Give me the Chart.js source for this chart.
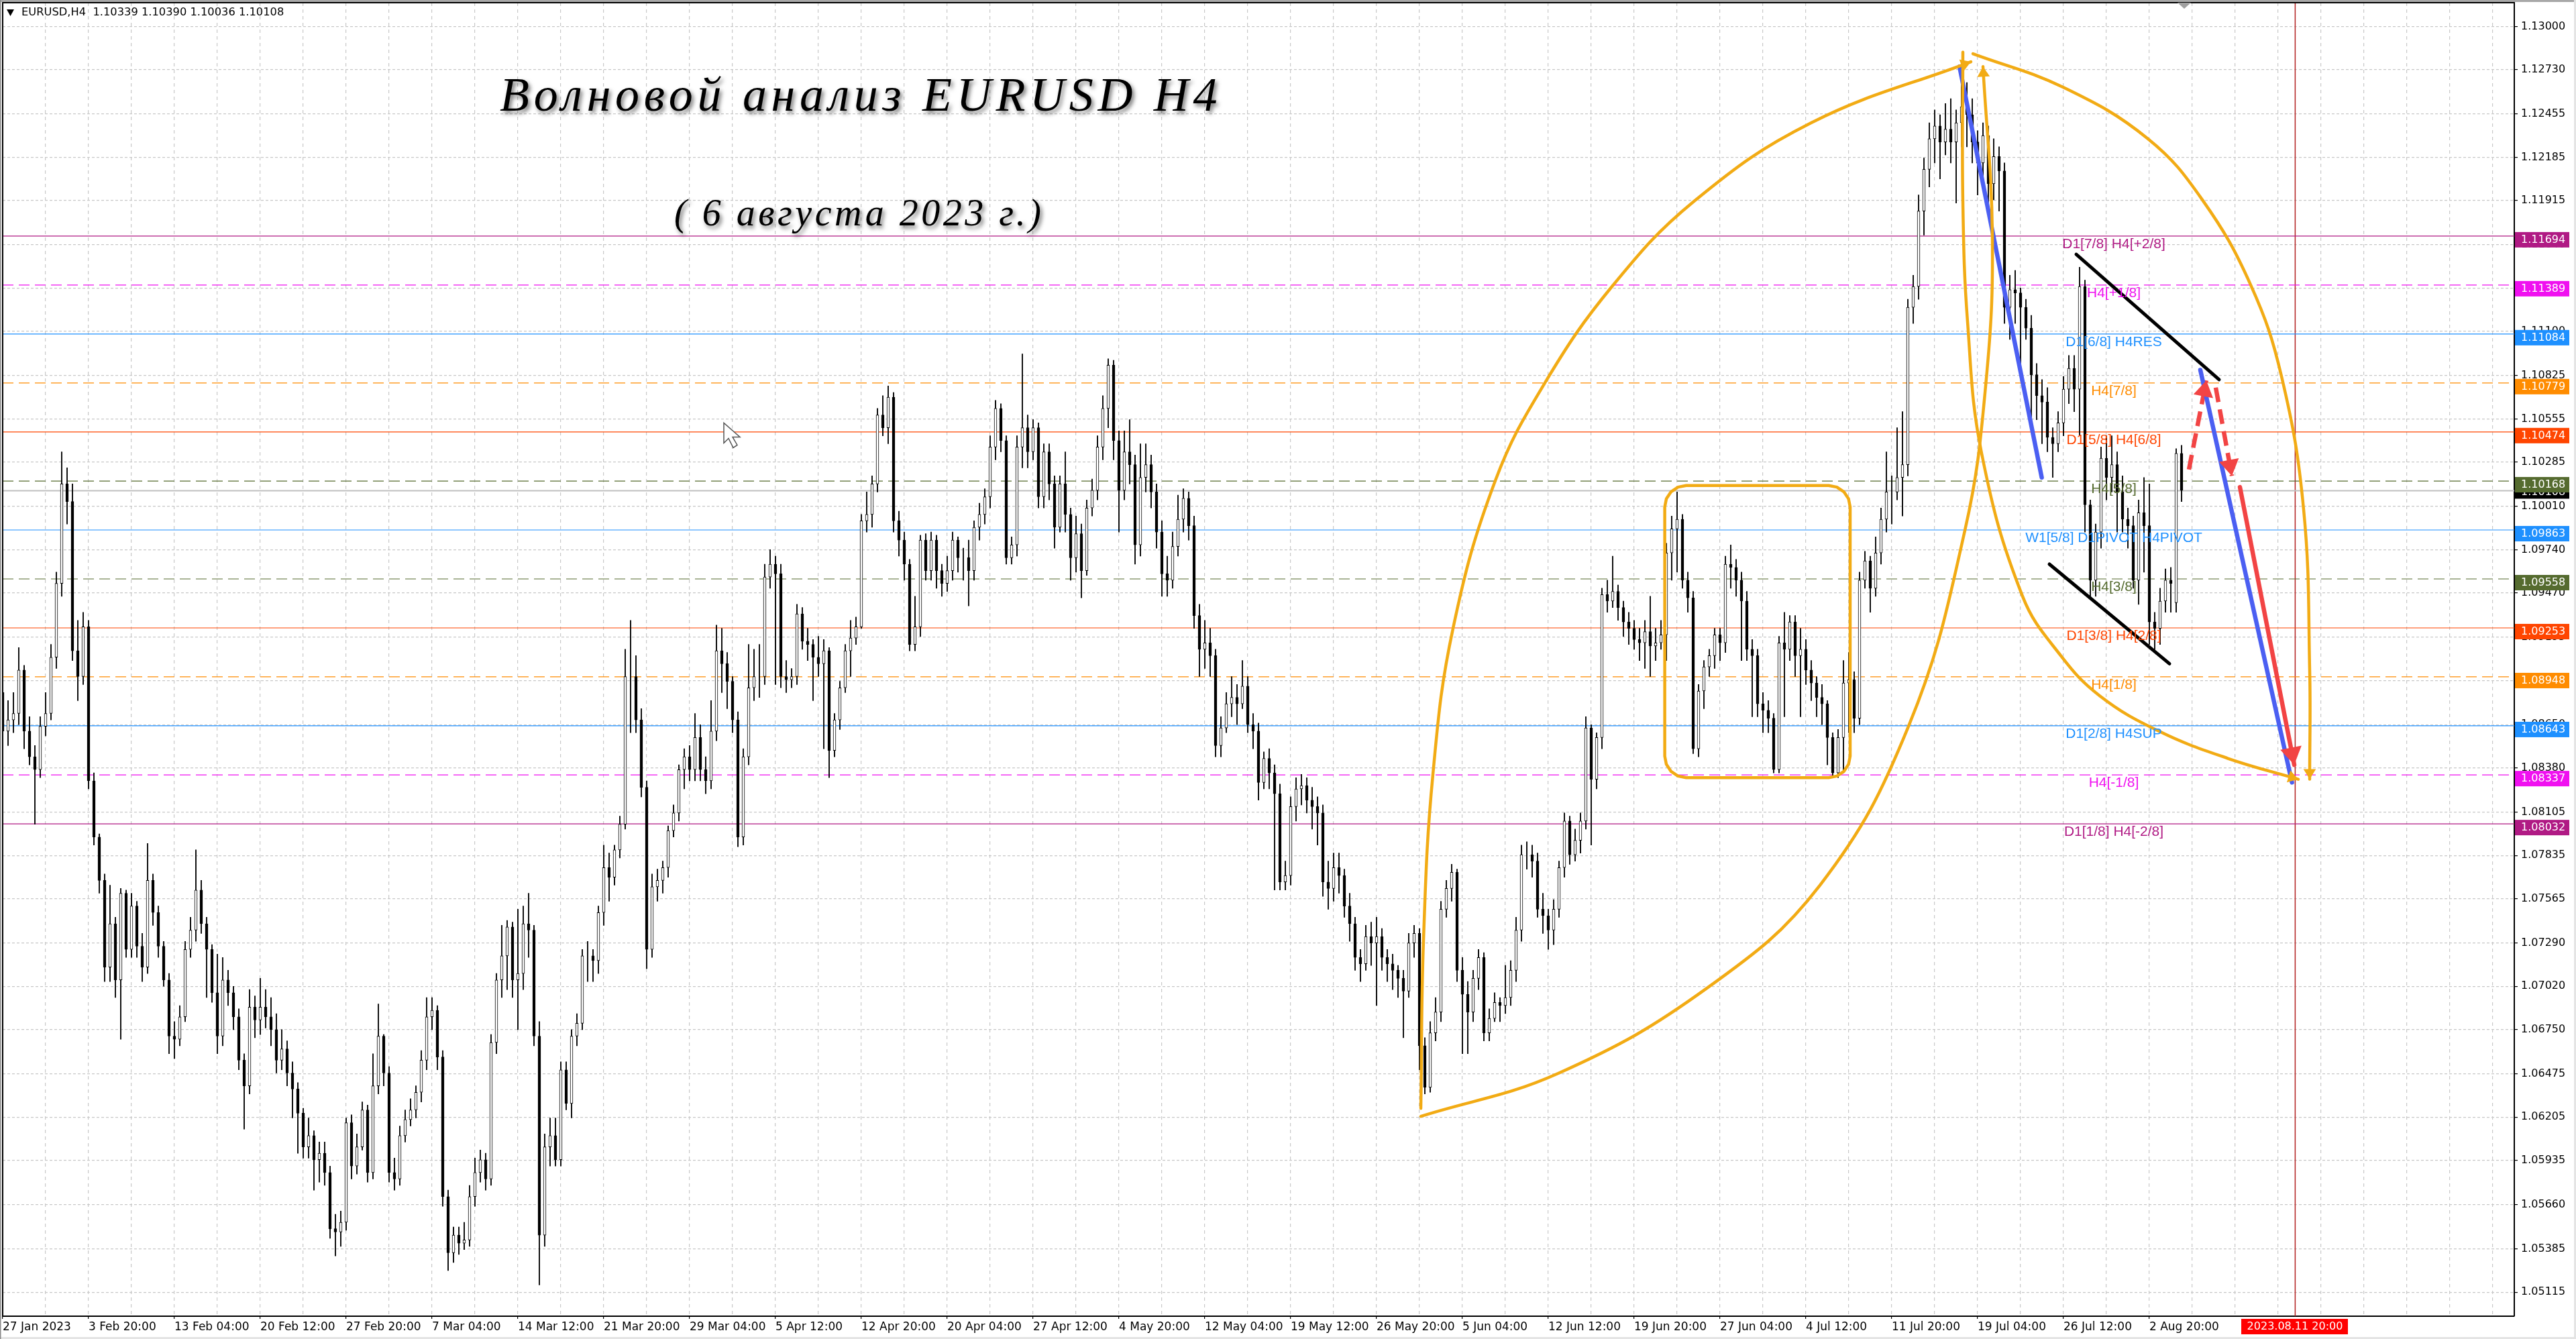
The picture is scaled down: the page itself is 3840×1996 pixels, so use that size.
<!DOCTYPE html>
<html>
<head>
<meta charset="utf-8">
<title>EURUSD H4</title>
<style>
  html, body { margin: 0; padding: 0; background: #fff; }
  canvas { display: block; }
</style>
<script src="https://cdn.jsdelivr.net/npm/chart.js@4"></script>
</head>
<body>
<canvas id="chart" width="3840" height="1996"></canvas>
<script>
// prices are kept in 0.0001 units, one candle for every two H4 bars
const opens = [
10885,10861,10868,10872,10899,10861,10845,10837,10864,10872,
10907,10953,11015,11004,10911,10895,10926,10830,10795,10768,
10714,10741,10706,10760,10725,10752,10727,10714,10768,10748,
10727,10706,10671,10669,10683,10725,10737,10762,10741,10725,
10698,10671,10706,10698,10683,10656,10640,10689,10681,10689,
10683,10675,10656,10663,10648,10638,10623,10602,10609,10594,
10598,10586,10551,10549,10555,10617,10590,10602,10625,10586,
10640,10671,10648,10586,10582,10609,10619,10625,10636,10656,
10683,10687,10658,10571,10536,10547,10542,10544,10571,10586,
10594,10582,10667,10706,10721,10739,10706,10710,10741,10737,
10671,10547,10602,10609,10594,10650,10629,10671,10679,10721,
10721,10718,10748,10776,10770,10787,10803,10895,10895,10868,
10826,10725,10764,10768,10776,10799,10810,10837,10845,10837,
10857,10837,10830,10861,10911,10903,10892,10868,10795,10845,
10888,10895,10895,10957,10965,10959,10895,10893,10895,10934,
10917,10915,10907,10903,10911,10849,10868,10888,10911,10919,
10926,10992,10996,11015,11058,11050,11069,10992,10980,10965,
10915,10926,10980,10961,10980,10961,10953,10961,10980,10969,
10969,10961,10988,10996,11007,11038,11062,11042,10969,10977,
11038,11050,11035,11050,11007,11035,11015,10988,11015,10996,
10969,10984,10961,11000,11011,11038,11062,11089,11042,11011,
11035,11027,10977,
11019,11027,11010,10985,10959,10955,10976,10993,11006,10989,
10933,10912,10916,10908,10852,10863,10878,10882,10878,10889,
10865,10861,10829,10844,10835,10822,10767,10771,10814,10825,
10827,10818,10814,10810,10767,10763,10776,10771,10752,10741,
10720,10716,10733,10729,10733,10720,10716,10712,10707,10699,
10729,10735,10665,10639,10673,10686,10750,10763,10773,10712,
10697,10686,10707,10720,10673,10682,10692,10690,10695,10712,
10737,10784,10784,10780,10750,10746,10737,10750,10776,10805,
10784,10793,10805,10863,10831,10857,10946,10942,10948,10938,
10929,10925,10918,10916,10923,10914,10916,10921,10972,10987,
10993,10955,10944,10850,10886,10901,10908,10921,10916,10965,
10963,10955,10942,10912,10908,10878,10874,10869,10837,10916,
10912,10929,10908,10912,10899,10891,10882,10878,10857,10835,
10857,10891,10893,10869,10955,10967,10950,10972,10993,11010,
11010,11019,11027,11125,11138,11185,11211,11230,11238,11228,
11236,11228,11240,11250,11245,11228,11215,11232,11202,11219,
11210,11125,11136,11134,11125,11112,11083,11070,11066,11044,
11040,11053,11074,11087,11074,11138,11002,10955,10985,11031,
11019,11027,11010,10993,10989,10955,10997,10989,10929,10925,
10942,10955,10941,11034
];
const highs = [
10895,10880,10885,10913,10902,10870,10852,10870,10885,10915,
10960,11035,11025,11015,10930,10935,10930,10835,10797,10772,
10765,10745,10763,10762,10760,10755,10735,10791,10772,10752,
10730,10710,10680,10690,10730,10745,10787,10768,10745,10728,
10722,10720,10712,10702,10688,10660,10700,10696,10707,10700,
10695,10685,10675,10668,10655,10642,10626,10620,10612,10605,
10605,10590,10560,10562,10620,10622,10610,10630,10628,10660,
10691,10672,10652,10595,10615,10625,10632,10640,10662,10695,
10695,10690,10662,10575,10552,10552,10555,10578,10595,10600,
10598,10672,10710,10740,10743,10742,10750,10752,10760,10740,
10680,10610,10620,10620,10655,10655,10675,10685,10725,10730,
10725,10752,10790,10785,10790,10808,10912,10930,10908,10875,
10830,10772,10775,10780,10802,10815,10840,10850,10852,10872,
10865,10845,10880,10927,10925,10910,10895,10873,10850,10915,
10912,10915,10965,10974,10970,10965,10905,10900,10940,10938,
10925,10918,10920,10918,10913,10872,10892,10915,10930,10932,
10996,11010,11020,11062,11070,11076,11072,10998,10985,10968,
10945,10983,10984,10985,10983,10965,10970,10985,10982,10975,
10980,10992,11003,11012,11045,11067,11065,11045,10982,11045,
11096,11058,11055,11053,11040,11040,11020,11020,11035,11000,
10995,10990,11005,11018,11045,11070,11093,11092,11048,11048,
11055,11033,11040,
11040,11033,11015,10992,10970,10985,11008,11012,11010,10995,
10940,10930,10925,10912,10870,10885,10895,10890,10905,10895,
10872,10866,10848,10850,10840,10828,10780,10820,10832,10834,
10832,10826,10820,10815,10780,10785,10785,10775,10760,10745,
10725,10740,10742,10745,10738,10725,10722,10715,10712,10735,
10740,10738,10670,10680,10695,10755,10768,10778,10775,10720,
10705,10712,10725,10723,10688,10698,10695,10715,10718,10745,
10790,10792,10790,10785,10760,10750,10756,10780,10810,10808,
10800,10810,10870,10865,10860,10950,10955,10970,10952,10942,
10935,10930,10925,10930,10945,10925,10930,10978,10995,11010,
10996,10960,10948,10890,10905,10912,10925,10925,10970,10977,
10968,10960,10948,10918,10912,10885,10880,10872,10920,10935,
10933,10933,10925,10918,10905,10895,10890,10880,10860,10862,
10905,10910,10898,10960,10973,10970,10982,11000,11035,11020,
11050,11060,11130,11145,11195,11218,11240,11248,11245,11252,
11255,11248,11276,11265,11255,11235,11240,11238,11230,11225,
11215,11145,11148,11137,11130,11120,11090,11080,11075,11050,
11060,11082,11095,11095,11150,11142,11005,10990,11038,11045,
11045,11035,11020,11000,10995,11005,11019,11015,10935,10950,
10962,10963,11037,11039
];
const lows = [
10830,10852,10860,10865,10850,10840,10803,10832,10858,10868,
10900,10945,10990,10905,10880,10890,10825,10790,10760,10705,
10705,10695,10669,10720,10720,10720,10705,10710,10740,10720,
10702,10660,10657,10665,10680,10720,10730,10735,10695,10692,
10660,10665,10690,10675,10650,10613,10635,10670,10672,10676,
10665,10648,10650,10640,10620,10598,10595,10595,10575,10580,
10578,10545,10534,10540,10550,10582,10585,10600,10580,10582,
10635,10640,10580,10575,10578,10605,10615,10620,10630,10650,
10675,10650,10565,10525,10530,10535,10538,10540,10565,10580,
10575,10578,10660,10695,10700,10695,10675,10700,10720,10665,
10516,10540,10590,10590,10590,10625,10620,10665,10675,10705,
10705,10710,10740,10755,10765,10782,10800,10860,10860,10820,
10713,10720,10755,10760,10770,10795,10805,10825,10830,10830,
10830,10822,10825,10855,10885,10875,10860,10789,10790,10840,
10880,10882,10890,10950,10890,10888,10885,10888,10890,10912,
10905,10880,10895,10850,10832,10845,10862,10885,10895,10915,
10925,10985,10988,11010,11045,11040,10985,10970,10955,10911,
10911,10920,10955,10955,10950,10945,10948,10955,10960,10955,
10939,10955,10980,10990,11000,11030,11035,10965,10965,10970,
11025,11025,11030,11000,11000,11005,10975,10985,10985,10955,
10960,10944,10958,10995,11005,11030,11050,11030,10985,11005,
11015,10965,10970,
11010,11000,10975,10945,10945,10950,10970,10985,10980,10925,
10895,10900,10895,10845,10845,10860,10870,10865,10875,10860,
10850,10818,10825,10825,10762,10762,10762,10765,10805,10815,
10810,10800,10790,10758,10750,10755,10760,10745,10730,10712,
10705,10712,10715,10690,10712,10705,10700,10695,10670,10695,
10720,10650,10635,10636,10668,10680,10745,10755,10705,10660,
10660,10680,10700,10668,10668,10680,10680,10685,10690,10705,
10730,10775,10770,10745,10735,10725,10728,10745,10770,10778,
10780,10785,10800,10790,10825,10850,10935,10938,10930,10920,
10915,10912,10905,10900,10895,10905,10912,10905,10955,10960,
10950,10935,10847,10845,10875,10895,10900,10905,10910,10950,
10945,10905,10905,10870,10870,10860,10860,10835,10835,10870,
10905,10895,10870,10890,10880,10870,10865,10840,10833,10832,
10835,10860,10860,10865,10950,10935,10945,10965,10985,10990,
11005,10995,11020,11115,11130,11170,11200,11215,11205,11220,
11215,11190,11225,11225,11215,11195,11200,11190,11192,11185,
11115,11105,11115,11090,11105,11055,11055,11040,11035,11019,
11035,11045,11065,11060,11045,10985,10945,10945,10975,11005,
11010,10985,10985,10975,10950,10940,10960,10915,10912,10915,
10935,10935,10935,11004
];
const closes = [
10861,10868,10872,10899,10861,10845,10837,10864,10872,10907,
10953,11015,11004,10911,10895,10926,10830,10795,10768,10714,
10741,10706,10760,10725,10752,10727,10714,10768,10748,10727,
10706,10671,10669,10683,10725,10737,10762,10741,10725,10698,
10671,10706,10698,10683,10656,10640,10689,10681,10689,10683,
10675,10656,10663,10648,10638,10623,10602,10609,10594,10598,
10586,10551,10549,10555,10617,10590,10602,10625,10586,10640,
10671,10648,10586,10582,10609,10619,10625,10636,10656,10683,
10687,10658,10571,10536,10547,10542,10544,10571,10586,10594,
10582,10667,10706,10721,10739,10706,10710,10741,10737,10671,
10547,10602,10609,10594,10650,10629,10671,10679,10721,10721,
10718,10748,10776,10770,10787,10803,10895,10895,10868,10826,
10725,10764,10768,10776,10799,10810,10837,10845,10837,10857,
10837,10830,10861,10911,10903,10892,10868,10795,10845,10888,
10895,10895,10957,10965,10959,10895,10893,10895,10934,10917,
10915,10907,10903,10911,10849,10868,10888,10911,10919,10926,
10992,10996,11015,11058,11050,11069,10992,10980,10965,10915,
10926,10980,10961,10980,10961,10953,10961,10980,10969,10969,
10961,10988,10996,11007,11038,11062,11042,10969,10977,11038,
11050,11035,11050,11007,11035,11015,10988,11015,10996,10969,
10984,10961,11000,11011,11038,11062,11089,11042,11011,11035,
11027,10977,11019,
11027,11010,10985,10959,10955,10976,10993,11006,10989,10933,
10912,10916,10908,10852,10863,10878,10882,10878,10889,10865,
10861,10829,10844,10835,10822,10767,10771,10814,10825,10827,
10818,10814,10810,10767,10763,10776,10771,10752,10741,10720,
10716,10733,10729,10733,10720,10716,10712,10707,10699,10729,
10735,10665,10639,10673,10686,10750,10763,10773,10712,10697,
10686,10707,10720,10673,10682,10692,10690,10695,10712,10737,
10784,10784,10780,10750,10746,10737,10750,10776,10805,10784,
10793,10805,10863,10831,10857,10946,10942,10948,10938,10929,
10925,10918,10916,10923,10914,10916,10921,10972,10987,10993,
10955,10944,10850,10886,10901,10908,10921,10916,10965,10963,
10955,10942,10912,10908,10878,10874,10869,10837,10916,10912,
10929,10908,10912,10899,10891,10882,10878,10857,10835,10857,
10891,10893,10869,10955,10967,10950,10972,10993,11010,11010,
11019,11027,11125,11138,11185,11211,11230,11238,11228,11236,
11228,11240,11250,11245,11228,11215,11232,11202,11219,11210,
11125,11136,11134,11125,11112,11083,11070,11066,11044,11040,
11053,11074,11087,11074,11138,11002,10955,10985,11031,11019,
11027,11010,10993,10989,10955,10997,10989,10929,10925,10942,
10955,10953,11034,11011
];

const yTickLabels = ['1.13000','1.12730','1.12455','1.12185','1.11915','1.11640','1.11370','1.11100','1.10825','1.10555',
  '1.10285','1.10010','1.09740','1.09470','1.09195','1.08925','1.08650','1.08380','1.08105','1.07835',
  '1.07565','1.07290','1.07020','1.06750','1.06475','1.06205','1.05935','1.05660','1.05385','1.05115'];
const xTickLabels = ['27 Jan 2023','3 Feb 20:00','13 Feb 04:00','20 Feb 12:00','27 Feb 20:00','7 Mar 04:00','14 Mar 12:00',
  '21 Mar 20:00','29 Mar 04:00','5 Apr 12:00','12 Apr 20:00','20 Apr 04:00','27 Apr 12:00','4 May 20:00','12 May 04:00',
  '19 May 12:00','26 May 20:00','5 Jun 04:00','12 Jun 12:00','19 Jun 20:00','27 Jun 04:00','4 Jul 12:00','11 Jul 20:00',
  '19 Jul 04:00','26 Jul 12:00','2 Aug 20:00'];

// Murrey levels
const levelPrices = [1.11694,1.11389,1.11084,1.10779,1.10474,1.10168,1.09863,1.09558,1.09253,1.08948,1.08643,1.08337,1.08032];
const levelNames = ['D1[7/8] H4[+2/8]','H4[+1/8]','D1[6/8] H4RES','H4[7/8]','D1[5/8] H4[6/8]','H4[5/8]',
  'W1[5/8] D1PIVOT H4PIVOT','H4[3/8]','D1[3/8] H4[2/8]','H4[1/8]','D1[2/8] H4SUP','H4[-1/8]','D1[1/8] H4[-2/8]'];
const lastPrice = 1.10108;
const cursorBar = 854.35;
const cursorTimeLabel = '2023.08.11 20:00';
const headerText = 'EURUSD,H4  1.10339 1.10390 1.10036 1.10108';

// drawn shapes, bars on x (4 px per bar), 0.0001 units on y
const arcUpperBars = [528.5,529.5,533,540.5,556.25,574.75,599.75,630.25,674,733.5];
const arcUpperPrices = [10626,10731,10834,10925,11017,11078,11138,11191,11240,11278];
const arcLowerBars = [528.5,580,635.25,677.25,710.25,731.25,739.1,741.5,738];
const arcLowerPrices = [10621,10648,10701,10765,10864,10986,11078,11169,11275];
const arcRightBars = [734.25,768,799.5,819.75,837.75,849.25,857.5,859.75,859.75];
const arcRightPrices = [11283,11262,11230,11192,11139,11082,10999,10899,10831];
const arcInnerBars = [730.5,730.5,732.25,737.5,752.75,767,781.5,803.5,829.25,855.5];
const arcInnerPrices = [11284,11191,11116,11034,10945,10908,10883,10861,10844,10831];
const boxBars = [619.4,620,621.75,624.35,627.4,680.5,683.55,686.15,687.9,688.5,688.5,687.9,686.15,683.55,680.5,627.4,624.35,621.75,620,619.4,619.4];
const boxPrices = [11000.6,11005.7,11010.1,11013,11014,11014,11013,11010.1,11005.7,11000.6,10845.4,10840.3,10835.9,10833,10832,10832,10833,10835.9,10840.3,10845.4,11000.6];
const blueDownBars = [729.25,759.9];
const blueDownPrices = [11275,11019];
const blueTargetBars = [819,853.15];
const blueTargetPrices = [11086,10829];
const channelUpperBars = [772.75,826];
const channelUpperPrices = [11158,11080];
const channelLowerBars = [762.75,807.5];
const channelLowerPrices = [10965,10903];
const redUpBars = [814.75,821.25];
const redUpPrices = [11024,11079.5];
const redDownBars = [824.75,830.75];
const redDownPrices = [11075,11020];
const redMainBars = [833.75,854];
const redMainPrices = [11013,10840];

// styles
const PURPLE = '#b01a84', MAGENTA = '#f010f0', BLUE = '#1e90ff', ORANGE = '#ff8c00', RED_ORANGE = '#ff4500', OLIVE = '#556b2f';
const levelColors = [PURPLE,MAGENTA,BLUE,ORANGE,RED_ORANGE,OLIVE,BLUE,OLIVE,RED_ORANGE,ORANGE,BLUE,MAGENTA,PURPLE];
const levelDashed = [false,true,false,true,false,true,false,true,false,true,false,true,false];
const ARC = '#f2ab14', STROKE_BLUE = '#4b5ff2', STROKE_RED = '#f24444';
const PLOT = { left: 4, top: 4, right: 3748, bottom: 1962 };
const X_MIN = 0, X_MAX = 936, BARS_PER_CANDLE = 2, BARS_PER_GRID = 16;
const Y_MIN = 1.04965, Y_MAX = 1.13148;

function toPrice(v) { return v / 10000; }

function shape(bars, prices, color, width, extra) {
  return Object.assign({
    type: 'line',
    data: bars.map((b, i) => ({ x: b, y: toPrice(prices[i]) })),
    borderColor: color,
    borderWidth: width,
    pointRadius: 0,
    fill: false,
    order: 1,
    borderCapStyle: 'round',
    borderJoinStyle: 'round'
  }, extra || {});
}

const datasets = [];

// overlays first so they stay on top of the candles
datasets.push(shape(arcUpperBars, arcUpperPrices, ARC, 4.5, { tension: 0.4, arrowSize: 15 }));
datasets.push(shape(arcLowerBars, arcLowerPrices, ARC, 4.5, { tension: 0.4, arrowSize: 15 }));
datasets.push(shape(arcRightBars, arcRightPrices, ARC, 4.5, { tension: 0.4, arrowSize: 15 }));
datasets.push(shape(arcInnerBars, arcInnerPrices, ARC, 4.5, { tension: 0.4, arrowSize: 15 }));
datasets.push(shape(boxBars, boxPrices, ARC, 4.5));
datasets.push(shape(blueDownBars, blueDownPrices, STROKE_BLUE, 6.5));
datasets.push(shape(blueTargetBars, blueTargetPrices, STROKE_BLUE, 6.5));
datasets.push(shape(channelUpperBars, channelUpperPrices, '#000', 5));
datasets.push(shape(channelLowerBars, channelLowerPrices, '#000', 5));
datasets.push(shape(redUpBars, redUpPrices, STROKE_RED, 6.5, { borderDash: [22, 11], borderCapStyle: 'butt', arrowSize: 24 }));
datasets.push(shape(redDownBars, redDownPrices, STROKE_RED, 6.5, { borderDash: [22, 11], borderCapStyle: 'butt', arrowSize: 24 }));
datasets.push(shape(redMainBars, redMainPrices, STROKE_RED, 6.5, { arrowSize: 26 }));

// candles: a thin floating bar for the wick and a wider one for the body
datasets.push({
  type: 'bar',
  data: opens.map((o, i) => ({ x: i * BARS_PER_CANDLE, y: [toPrice(o), toPrice(closes[i])] })),
  barThickness: 4,
  grouped: false,
  backgroundColor: ctx => (closes[ctx.dataIndex] >= opens[ctx.dataIndex] ? '#fff' : '#000'),
  borderColor: '#000',
  borderWidth: 1,
  borderSkipped: false,
  order: 3
});
datasets.push({
  type: 'bar',
  data: lows.map((l, i) => ({ x: i * BARS_PER_CANDLE, y: [toPrice(l), toPrice(highs[i])] })),
  barThickness: 1.2,
  grouped: false,
  backgroundColor: '#000',
  borderWidth: 0,
  order: 4
});

// horizontal levels and the red time line underneath everything
levelPrices.forEach((p, i) => {
  datasets.push({
    type: 'line',
    data: [{ x: X_MIN, y: p }, { x: X_MAX, y: p }],
    borderColor: levelColors[i],
    borderWidth: 1.2,
    borderDash: levelDashed[i] ? [16, 8] : [],
    pointRadius: 0,
    order: 5
  });
});
datasets.push({
  type: 'line',
  data: [{ x: X_MIN, y: lastPrice }, { x: X_MAX, y: lastPrice }],
  borderColor: '#c0c0c0',
  borderWidth: 2,
  pointRadius: 0,
  order: 5
});
datasets.push({
  type: 'line',
  data: [{ x: cursorBar, y: Y_MIN }, { x: cursorBar, y: Y_MAX }],
  borderColor: '#b22222',
  borderWidth: 1.5,
  pointRadius: 0,
  order: 5
});

const arrowHeads = {
  id: 'arrowHeads',
  afterDatasetsDraw(chart) {
    const { ctx, scales } = chart;
    ctx.save();
    chart.data.datasets.forEach(ds => {
      if (!ds.arrowSize) return;
      const n = ds.data.length;
      const tipX = scales.x.getPixelForValue(ds.data[n - 1].x);
      const tipY = scales.y.getPixelForValue(ds.data[n - 1].y);
      const fromX = scales.x.getPixelForValue(ds.data[n - 2].x);
      const fromY = scales.y.getPixelForValue(ds.data[n - 2].y);
      const a = Math.atan2(tipY - fromY, tipX - fromX);
      const s = ds.arrowSize;
      ctx.fillStyle = ds.borderColor;
      ctx.beginPath();
      ctx.moveTo(tipX, tipY);
      ctx.lineTo(tipX - s * Math.cos(a) + s * 0.62 * Math.sin(a), tipY - s * Math.sin(a) - s * 0.62 * Math.cos(a));
      ctx.lineTo(tipX - s * Math.cos(a) - s * 0.62 * Math.sin(a), tipY - s * Math.sin(a) + s * 0.62 * Math.cos(a));
      ctx.closePath();
      ctx.fill();
    });
    ctx.restore();
  }
};

const levelText = {
  id: 'levelText',
  afterDatasetsDraw(chart) {
    const { ctx, scales } = chart;
    ctx.save();
    ctx.font = '21px "Liberation Sans"';
    ctx.textAlign = 'center';
    ctx.textBaseline = 'middle';
    levelPrices.forEach((p, i) => {
      ctx.fillStyle = levelColors[i];
      ctx.fillText(levelNames[i], 3151, scales.y.getPixelForValue(p) + 12);
    });
    ctx.restore();
  }
};

const decorations = {
  id: 'decorations',
  beforeDraw(chart) {
    const ctx = chart.ctx;
    ctx.save();
    ctx.fillStyle = '#fff';
    ctx.fillRect(0, 0, 3840, 1996);
    ctx.restore();
  },
  afterDraw(chart) {
    const { ctx, scales } = chart;
    ctx.save();

    // window frame and plot border
    ctx.fillStyle = '#a8a8a8';
    ctx.fillRect(0, 0, 3840, 3);
    ctx.fillStyle = '#e4e4e4';
    ctx.fillRect(3837, 0, 3, 1996);
    ctx.fillRect(0, 1993, 3840, 3);
    ctx.fillStyle = '#000';
    ctx.fillRect(PLOT.left - 1, PLOT.top - 1, PLOT.right - PLOT.left + 1, 2);
    ctx.fillRect(PLOT.left - 1, PLOT.top - 1, 2, PLOT.bottom - PLOT.top + 1);
    ctx.fillStyle = '#8a8a8a';
    ctx.fillRect(0, 0, 1.5, 1996);

    // header with the small triangle
    ctx.fillStyle = '#000';
    ctx.beginPath();
    ctx.moveTo(10, 14);
    ctx.lineTo(21, 14);
    ctx.lineTo(15.5, 24);
    ctx.closePath();
    ctx.fill();
    ctx.font = '16.3px "DejaVu Sans"';
    ctx.textAlign = 'left';
    ctx.textBaseline = 'middle';
    ctx.fillText(headerText, 32, 19);

    // chart shift mark on the top edge
    const shiftX = scales.x.getPixelForValue(813);
    ctx.fillStyle = '#a0a0a0';
    ctx.beginPath();
    ctx.moveTo(shiftX - 10, 4);
    ctx.lineTo(shiftX + 10, 4);
    ctx.lineTo(shiftX, 13);
    ctx.closePath();
    ctx.fill();

    // mouse pointer left on the screenshot
    const px = scales.x.getPixelForValue(268.75);
    const py = scales.y.getPixelForValue(toPrice(11053));
    ctx.fillStyle = '#fff';
    ctx.strokeStyle = '#555';
    ctx.lineWidth = 1.5;
    ctx.beginPath();
    ctx.moveTo(px, py);
    ctx.lineTo(px, py + 30);
    ctx.lineTo(px + 7, py + 23);
    ctx.lineTo(px + 14, py + 37);
    ctx.lineTo(px + 20, py + 33);
    ctx.lineTo(px + 13, py + 21);
    ctx.lineTo(px + 24, py + 21);
    ctx.closePath();
    ctx.fill();
    ctx.stroke();

    // title
    ctx.shadowColor = 'rgba(0,0,0,0.55)';
    ctx.shadowBlur = 6;
    ctx.shadowOffsetX = 3;
    ctx.shadowOffsetY = 4;
    ctx.fillStyle = '#000';
    ctx.textAlign = 'left';
    ctx.textBaseline = 'alphabetic';
    ctx.font = 'italic 72px "Liberation Serif"';
    ctx.letterSpacing = '6.7px';
    ctx.fillText('Волновой анализ EURUSD H4', 745, 165);
    ctx.font = 'italic 56px "Liberation Serif"';
    ctx.letterSpacing = '4.5px';
    ctx.fillText('( 6 августа 2023 г.)', 1005, 336);
    ctx.letterSpacing = '0px';
    ctx.shadowColor = 'transparent';
    ctx.shadowBlur = 0;
    ctx.shadowOffsetX = 0;
    ctx.shadowOffsetY = 0;

    // price badges on the right axis, the last price goes under its neighbour
    ctx.font = '16px "DejaVu Sans"';
    ctx.textBaseline = 'middle';
    const lastY = scales.y.getPixelForValue(lastPrice);
    ctx.fillStyle = '#000';
    ctx.fillRect(3749, lastY - 9, 81, 21);
    ctx.fillStyle = '#fff';
    ctx.fillText(lastPrice.toFixed(5), 3758, lastY + 2);
    levelPrices.forEach((p, i) => {
      const y = scales.y.getPixelForValue(p);
      ctx.fillStyle = levelColors[i];
      ctx.fillRect(3749, y - 6, 81, 23);
      ctx.fillStyle = '#fff';
      ctx.fillText(p.toFixed(5), 3758, y + 6);
    });

    // red time badge on the bottom axis
    ctx.fillStyle = '#f00';
    ctx.fillRect(3341, 1966, 159, 23);
    ctx.fillStyle = '#fff';
    ctx.textAlign = 'center';
    ctx.font = '16px "DejaVu Sans"';
    ctx.fillText(cursorTimeLabel, 3421, 1978);
    ctx.restore();
  }
};

new Chart(document.getElementById('chart').getContext('2d'), {
  type: 'bar',
  data: { datasets: datasets },
  plugins: [decorations, arrowHeads, levelText],
  options: {
    responsive: false,
    animation: false,
    devicePixelRatio: 1,
    layout: { padding: { left: PLOT.left, top: PLOT.top, right: 0, bottom: 0 } },
    plugins: { legend: { display: false }, tooltip: { enabled: false }, title: { display: false } },
    scales: {
      x: {
        type: 'linear',
        min: X_MIN,
        max: X_MAX,
        offset: false,
        afterBuildTicks: axis => {
          const t = [];
          for (let v = X_MIN; v <= X_MAX; v += BARS_PER_GRID) t.push({ value: v });
          axis.ticks = t;
        },
        // the plot area has to stay exact, so no room is kept for overhanging labels
        afterFit: axis => {
          axis.height = 1996 - PLOT.bottom;
          axis.paddingLeft = 0;
          axis.paddingRight = 0;
        },
        grid: { offset: false, color: '#c8c8c8', lineWidth: 1.2, tickLength: 4,
          tickColor: ctx => (ctx.index % 2 === 0 && ctx.index / 2 < xTickLabels.length ? '#000' : 'transparent') },
        border: { display: true, color: '#000', width: 2, dash: [5, 5] },
        ticks: {
          autoSkip: false,
          maxRotation: 0,
          align: 'start',
          padding: 2,
          color: '#000',
          font: { family: 'DejaVu Sans', size: 17 },
          callback: (v, i) => (i % 2 === 0 && xTickLabels[i / 2]) || ''
        }
      },
      y: {
        type: 'linear',
        position: 'right',
        min: Y_MIN,
        max: Y_MAX,
        afterBuildTicks: axis => { axis.ticks = yTickLabels.map(l => ({ value: parseFloat(l) })); },
        afterFit: axis => {
          axis.width = 3840 - PLOT.right;
          axis.paddingTop = 0;
          axis.paddingBottom = 0;
        },
        grid: { color: '#c8c8c8', lineWidth: 1.2, tickLength: 5, tickColor: '#000' },
        border: { display: true, color: '#000', width: 2, dash: [4, 3] },
        ticks: {
          autoSkip: false,
          padding: 5,
          color: '#000',
          font: { family: 'DejaVu Sans', size: 16 },
          callback: v => v.toFixed(5)
        }
      }
    }
  }
});
</script>
</body>
</html>
